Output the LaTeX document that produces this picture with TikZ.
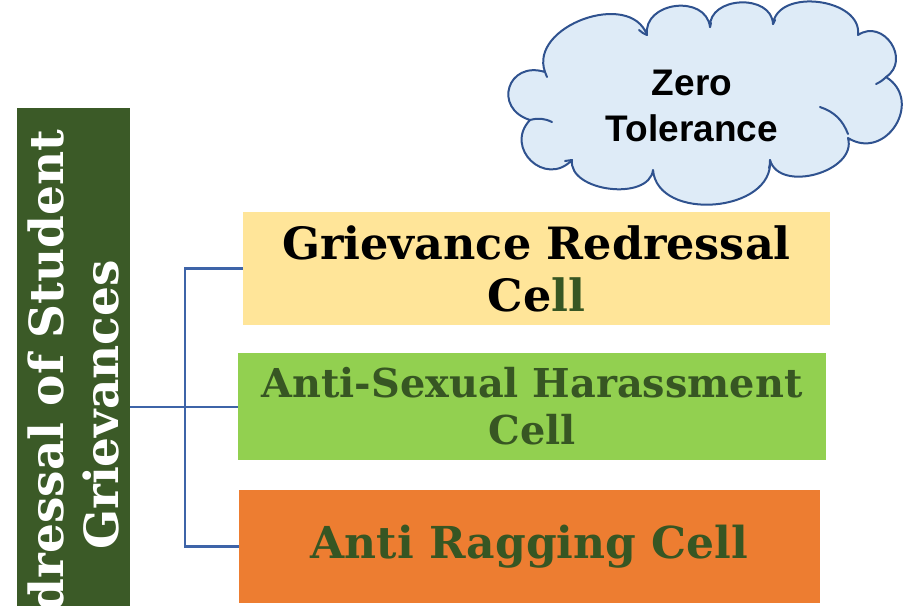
\documentclass[tikz,border=0pt]{standalone}
\usepackage{fontspec}
\setmainfont{DejaVu Serif}
\newfontfamily\cloudfont{Liberation Sans}
\definecolor{bargreen}{HTML}{3B5A27}
\definecolor{txtgreen}{HTML}{375623}
\definecolor{yellowc}{HTML}{FFE599}
\definecolor{greenc}{HTML}{92D050}
\definecolor{orangec}{HTML}{ED7D31}
\definecolor{connc}{HTML}{3E64A8}
\definecolor{cloudfill}{HTML}{DEEBF7}
\definecolor{cloudline}{HTML}{2F528F}
\tikzset{
  cellbox/.style={inner sep=0pt, align=center, font=\bfseries\fontsize{44.5}{52}\selectfont},
  conn/.style={draw=connc, line width=2.2pt},
  cloudedge/.style={draw=cloudline, line width=2pt, line join=round, line cap=round},
  puff/.style={bend left=90, looseness=#1},
}
\begin{document}
\begin{tikzpicture}[x=1pt,y=-1pt]
\useasboundingbox (0,0) rectangle (910,606);
\node[fill=bargreen, minimum width=113pt, minimum height=498pt, inner sep=0pt, anchor=north west] (bar) at (17,108) {};
\begin{scope}
\clip (17,108) rectangle (130,606);
\node[rotate=90, text=white, align=center, inner sep=0pt, font=\bfseries\fontsize{47}{55}\selectfont] (bartext) at (73,405) {Redressal of Student\\Grievances};
\end{scope}
\node[cellbox, fill=yellowc, minimum width=587pt, minimum height=113pt] (gr) at (536.5,268.5) {Grievance Redressal\\Ce{\color{txtgreen}ll}};
\node[cellbox, fill=greenc, text=txtgreen, minimum width=588pt, minimum height=107pt, font=\bfseries\fontsize{39.8}{47}\selectfont] (as) at (532,406.5) {Anti-Sexual Harassment\\Cell};
\node[cellbox, fill=orangec, text=txtgreen, minimum width=581pt, minimum height=113pt, font=\bfseries\fontsize{44}{50}\selectfont] (ar) at (529.5,546.5) {Anti Ragging Cell};
\coordinate (j) at (185,407);
\draw[conn] (bar.east |- j) -- (j) |- (gr.west);
\draw[conn] (j) -- (j -| as.west);
\draw[conn] (j) |- (ar.west);
% cloud
\path[cloudedge, fill=cloudfill]
  (545,72) to[puff=1.15] (647,35) to[puff=1.35] (710,27) to[puff=1.25] (773,24)
  to[puff=1.1] (858,35) to[puff=1.55] (886,77) to[puff=1.6] (848,138)
  to[puff=1.1] (770,160) to[puff=1.15] (653,170) to[puff=1.0] (572,160)
  to[puff=1.7] (530,120) to[puff=2.0] cycle;
\draw[cloudedge] (530,120) to[bend left=20] (552,122);
\draw[cloudedge] (820,107) to[bend left=25] (848,134);
\draw[cloudedge] (886,77) to[bend left=10] (876,84);
\draw[cloudedge] (545,72) to[bend right=10] (547,77);
\draw[cloudedge] (647,35) to[bend left=10] (639,30);
\draw[cloudedge] (710,27) to[bend right=10] (711,23);
\draw[cloudedge] (773,24) to[bend left=10] (775,20);
\draw[cloudedge] (770,160) to[bend left=10] (769,168);
\draw[cloudedge] (572,160) to[bend right=10] (565,161);
\node[align=center, inner sep=0pt, font=\cloudfont\bfseries\fontsize{37}{46}\selectfont] (zttext) at (692,106) {Zero\\Tolerance};
\end{tikzpicture}
\end{document}
